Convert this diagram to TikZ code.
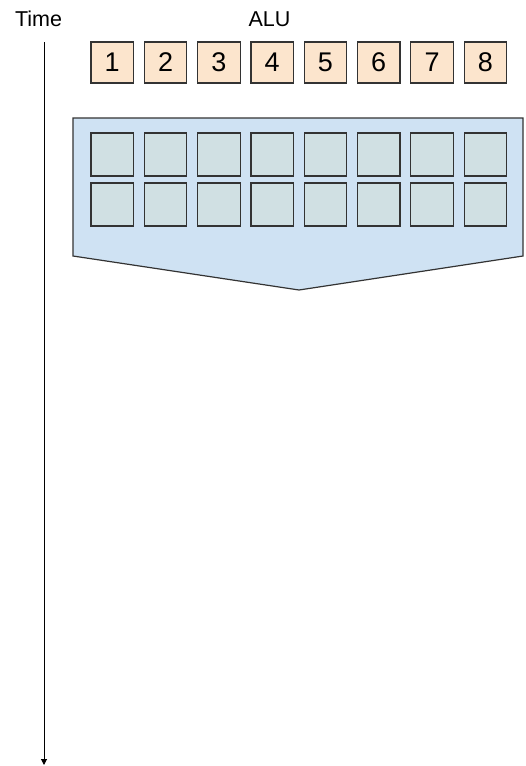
\documentclass[tikz,border=0pt]{standalone}
\usepackage{fontspec}
\setmainfont{Liberation Sans}
\usetikzlibrary{arrows.meta}
\definecolor{aluorange}{HTML}{FCE5CD}
\definecolor{bankblue}{HTML}{CFE2F3}
\definecolor{cellgray}{HTML}{D0E0E3}
\definecolor{edgegray}{HTML}{333333}
\begin{document}
\begin{tikzpicture}[x=1pt,y=-1pt,
  alubox/.style={draw=edgegray,line width=1.2pt,fill=aluorange,minimum width=42.5pt,minimum height=41pt,inner sep=0pt,font=\fontsize{27}{30}\selectfont},
  cellbox/.style={draw=edgegray,line width=1.2pt,fill=cellgray,minimum width=42.5pt,minimum height=43pt,inner sep=0pt},
  lbl/.style={anchor=base,inner sep=0pt,font=\fontsize{21.5}{24}\selectfont}]
\useasboundingbox (0,0) rectangle (525,766);
\node[lbl] (time) at (38.5,26) {Time};
\node[lbl] (alu) at (269.5,26) {ALU};
\foreach \i in {1,...,8}{
  \pgfmathsetmacro{\cx}{112.25+53.3*(\i-1)}
  \node[alubox] (a\i) at (\cx,62.5) {\i};
}
\draw[draw=edgegray,line width=1.2pt,fill=bankblue] (73,118) -- (523,118) -- (523,256) -- (299,290) -- (73,256) -- cycle;
\foreach \i in {1,...,8}{
  \pgfmathsetmacro{\cx}{112.25+53.3*(\i-1)}
  \node[cellbox] (r\i) at (\cx,154.5) {};
  \node[cellbox] (s\i) at (\cx,204.5) {};
}
\coordinate (t0) at (44,42);
\coordinate (t1) at (44,765);
\draw[line width=1pt,-{Triangle[length=6pt,width=6pt]}] (t0) -- (t1);
\end{tikzpicture}
\end{document}
